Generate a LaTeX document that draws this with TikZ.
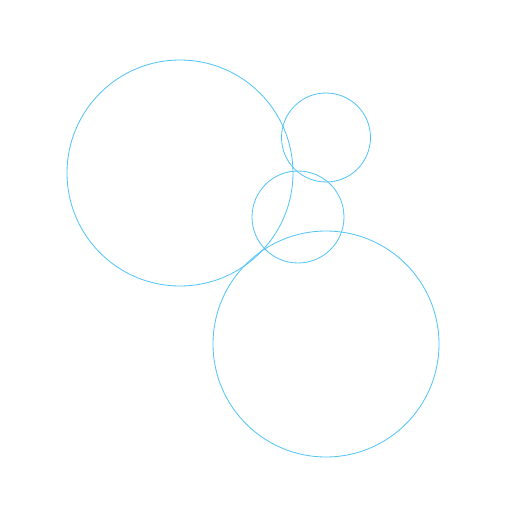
\documentclass[tikz,border=0pt]{standalone}
\definecolor{cb}{HTML}{4FC3F7}
\begin{document}
\begin{tikzpicture}[x=1pt,y=-1pt,circ/.style={draw=cb,line width=0.8pt}]
\useasboundingbox (0,0) rectangle (527,527);
\node[circ,circle,minimum size=226pt,inner sep=0pt] (c1) at (180,173) {};
\node[circ,circle,minimum size=89pt,inner sep=0pt] (c2) at (326,137.5) {};
\node[circ,circle,minimum size=92pt,inner sep=0pt] (c3) at (298,217) {};
\node[circ,circle,minimum size=226pt,inner sep=0pt] (c4) at (326,344) {};
\end{tikzpicture}
\end{document}
